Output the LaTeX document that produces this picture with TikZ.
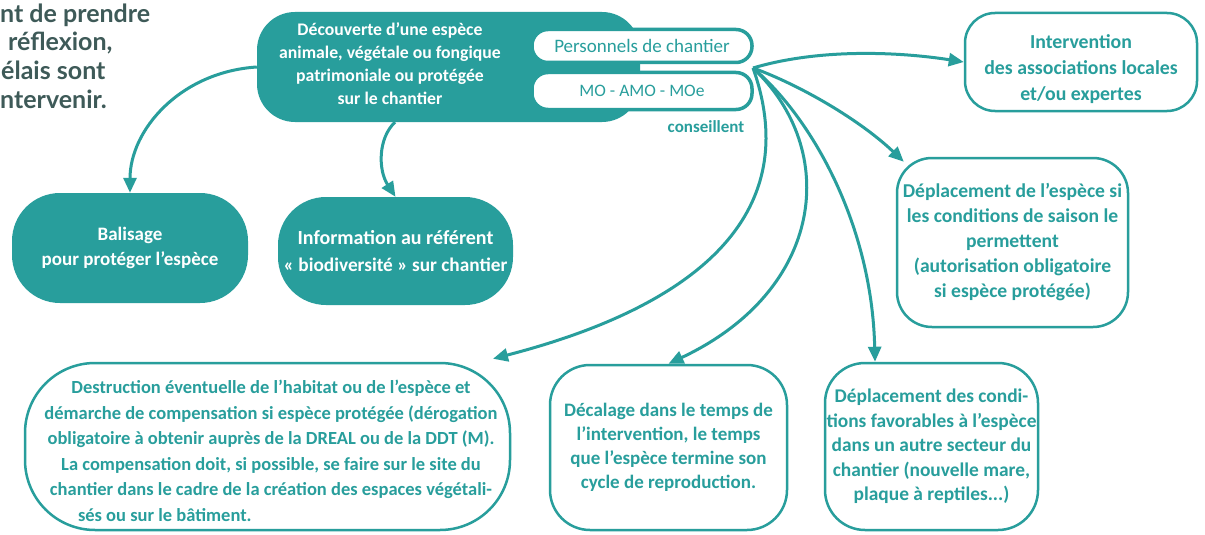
\documentclass[tikz,border=0pt]{standalone}
\usepackage{fontspec}
\setmainfont{Carlito}
\newfontfamily\latof{Lato}
\usetikzlibrary{arrows.meta}
\definecolor{tealc}{RGB}{40,158,156}
\definecolor{darkg}{RGB}{62,90,88}
\tikzset{
  fillbox/.style={fill=tealc, text=white, font=\bfseries\fontsize{19}{25}\selectfont, align=center, inner sep=0pt},
  outbox/.style={draw=tealc, line width=2.5pt, fill=white, text=tealc, align=center, inner sep=0pt},
  tealtext/.style={text=tealc, align=center, inner sep=0pt},
  pill/.style={draw=tealc, line width=3.5pt, fill=white, text=tealc, rounded corners=16pt, inner sep=0pt},
  arr/.style={draw=tealc, line width=3pt, -{Triangle[length=15pt,width=13pt]}},
  lefttext/.style={anchor=base west, font=\latof\bfseries\fontsize{25}{28}\selectfont, text=darkg, inner sep=0pt}
}
\begin{document}
\begin{tikzpicture}[x=1pt,y=-1pt]
\fill[white] (0,0) rectangle (1205,535);
\useasboundingbox (0,0) rectangle (1205,535);

% left partial text
\node[lefttext] (t1) at (0,23) {nt de prendre};
\node[lefttext] (t2) at (8,51) {réflexion,};
\node[lefttext] (t3) at (1,79) {élais sont};
\node[lefttext] (t4) at (0,108) {ntervenir.};

% main box
\node[fillbox, minimum width=383pt, minimum height=110pt, rounded corners=38pt] (disc) at (448.5,67) {};
\node[text=white, align=center, inner sep=0pt, font=\bfseries\fontsize{17.7}{23}\selectfont] (disctext) at (390,64)
  {Découverte d'une espèce\\animale, végétale ou fongique\\patrimoniale ou protégée\\sur le chantier};
\node[pill, minimum width=220pt, minimum height=33pt, font=\fontsize{19}{20}\selectfont] (perso) at (642,46) {Personnels de chantier};
\node[pill, minimum width=220pt, minimum height=37pt, font=\fontsize{17.5}{20}\selectfont] (mo) at (642,91) {MO - AMO - MOe};
\node[tealtext, font=\bfseries\fontsize{17}{18}\selectfont] (cons) at (706,127) {conseillent};
\coordinate (hub) at (753,68);

% filled boxes
\node[fillbox, minimum width=236pt, minimum height=110pt, rounded corners=48pt] (bal) at (130,248)
  {Balisage\\pour protéger l'espèce};
\node[fillbox, minimum width=235pt, minimum height=108pt, rounded corners=48pt, font=\bfseries\fontsize{19.3}{27}\selectfont] (info) at (395.5,251)
  {{\fontsize{20}{27}\selectfont Information au référent}\\«~biodiversité~» sur chantier};

% outlined boxes
\node[outbox, minimum width=232pt, minimum height=98pt, rounded corners=30pt] (interv) at (1081,62) {};
\node[tealtext, font=\bfseries\fontsize{19.8}{26}\selectfont] (intervtext) at (1081,69)
  {Intervention\\des associations locales\\et/ou expertes};

\node[outbox, minimum width=231pt, minimum height=169pt, rounded corners=35pt, font=\bfseries\fontsize{19.6}{25}\selectfont] (esp) at (1012.5,242.5)
  {Déplacement de l'espèce si\\les conditions de saison le\\permettent\\(autorisation obligatoire\\si espèce protégée)};

\node[outbox, minimum width=485pt, minimum height=167pt, rounded corners=70pt] (destr) at (267.5,446.5) {};
\node[tealtext, font=\bfseries\fontsize{18.5}{25.5}\selectfont] (destrtext) at (271,451)
  {Destruction éventuelle de l'habitat ou de l'espèce et\\
   démarche de compensation si espèce protégée (dérogation\\
   obligatoire à obtenir auprès de la DREAL ou de la DDT (M).\\
   La compensation doit, si possible, se faire sur le site du\\
   chantier dans le cadre de la création des espaces végétali-\\
   \makebox[386pt][l]{sés ou sur le bâtiment.}};

\node[outbox, minimum width=237pt, minimum height=165pt, rounded corners=40pt, font=\bfseries\fontsize{19}{24}\selectfont] (dec) at (668.5,447.5)
  {Décalage dans le temps de\\l'intervention, le temps\\que l'espèce termine son\\cycle de reproduction.};

\node[outbox, minimum width=213pt, minimum height=167pt, rounded corners=40pt, font=\bfseries\fontsize{19.4}{24.5}\selectfont] (cond) at (931.5,446.5)
  {Déplacement des condi-\\tions favorables à l'espèce\\dans un autre secteur du\\chantier (nouvelle mare,\\plaque à reptiles...)};

% arrows
\draw[arr] (disc.west) .. controls (180,72) and (130,130) .. (bal.north);
\draw[arr] ([xshift=-53.5pt]disc.south) .. controls (378,138) and (378,170) .. (info.north);
\draw[arr] (hub) .. controls (820,48) and (900,52) .. (interv.west);
\draw[arr] (hub) .. controls (800,85) and (860,120) .. ([xshift=8pt,yshift=-5pt]esp.north west);
\draw[arr] (hub) .. controls (812,118) and (872,225) .. ([xshift=-56.5pt]cond.north);
\draw[arr] (hub) .. controls (840,150) and (825,290) .. (dec.north);
\draw[arr] (hub) .. controls (800,200) and (720,300) .. ([xshift=225.5pt,yshift=3pt]destr.north);
\end{tikzpicture}
\end{document}
